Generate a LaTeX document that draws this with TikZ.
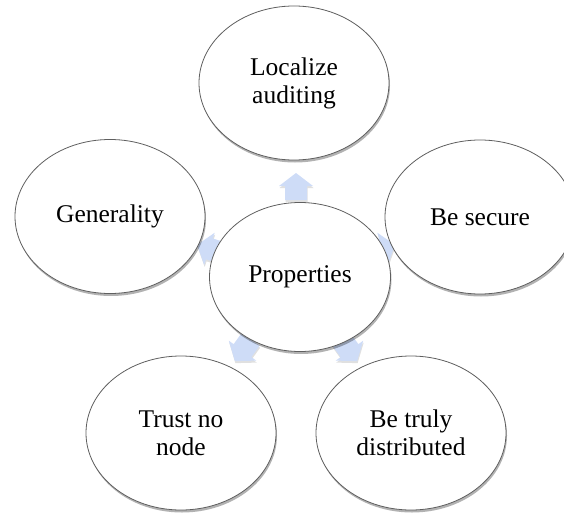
\documentclass[tikz,border=0pt]{standalone}
\usepackage{fontspec}
\setmainfont{Liberation Serif}
\usetikzlibrary{shapes.geometric,shadows,calc}
\definecolor{arrowblue}{RGB}{206,220,247}
\definecolor{edgegray}{RGB}{95,95,95}
\begin{document}
\begin{tikzpicture}[x=1pt,y=1pt,
  bubble/.style={ellipse, draw=edgegray, line width=0.8pt, fill=white, inner sep=0pt,
    minimum width=190pt, minimum height=154pt, align=center,
    font=\fontsize{25.5}{28}\selectfont,
    drop shadow={shadow xshift=1pt, shadow yshift=-2.5pt, opacity=0.3, fill=black}},
  hub/.style={bubble, minimum width=181pt, minimum height=149pt},
  blockarrow/.style={fill=arrowblue, draw=none,
    drop shadow={shadow xshift=0.5pt, shadow yshift=-2pt, opacity=0.12, fill=black}}]
\useasboundingbox (0,0) rectangle (564,515);
\clip (0,0) rectangle (564,515);
\coordinate (C) at (296,238);
% block arrows from the hub outwards (drawn first, behind the ellipses)
\foreach \a in {90,162,18,234,306}{
  \begin{scope}[shift={(C)}, rotate=\a]
    \path[blockarrow] (77,-11) -- (91,-11) -- (91,-17) -- (104,0)
      -- (91,17) -- (91,11) -- (77,11) -- cycle;
  \end{scope}
}
% ellipses
\node[bubble] (top) at (294,432) {Localize\\auditing};
\node[bubble] (gen) at (110,298.5) {Generality};
\node[bubble] (sec) at (480,298) {Be secure};
\node[bubble] (trust) at (181,82) {Trust no\\node};
\node[bubble] (dist) at (411,82) {Be truly\\distributed};
\node[hub] (prop) at (300,238) {Properties};
\end{tikzpicture}
\end{document}
